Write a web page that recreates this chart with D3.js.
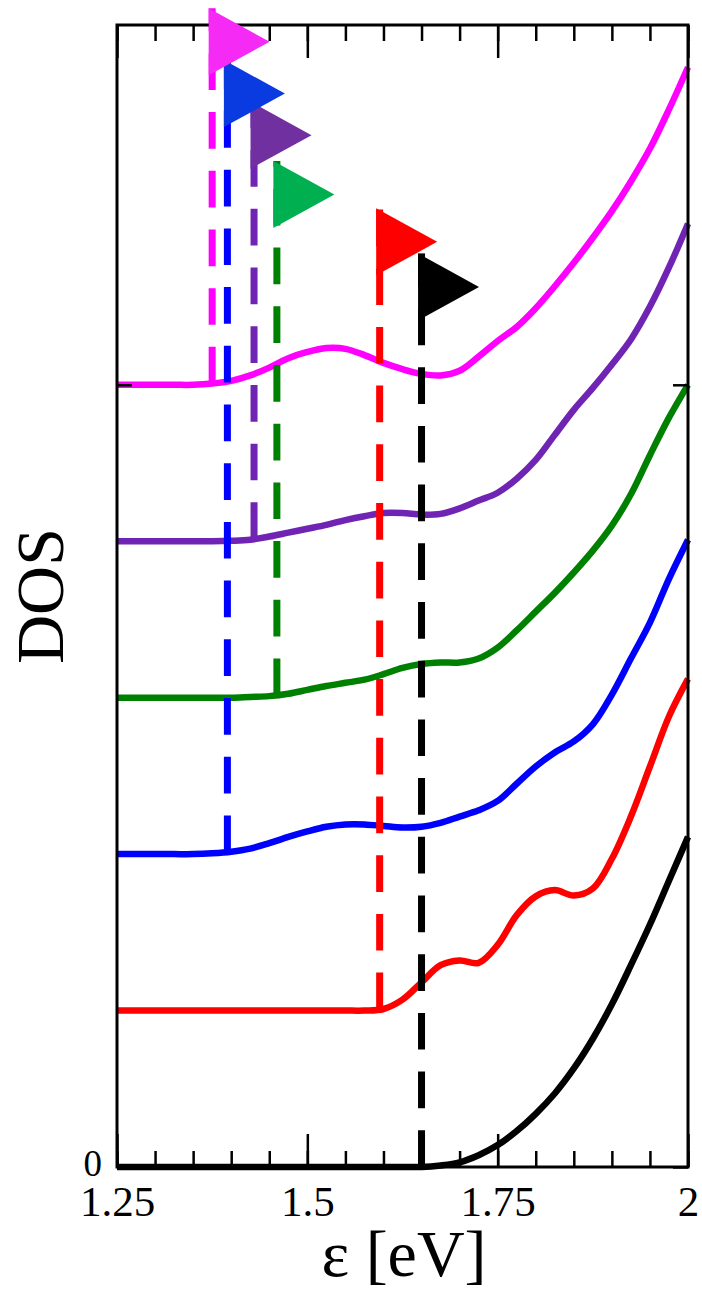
<!DOCTYPE html>
<html>
<head>
<meta charset="utf-8">
<script src="https://cdn.jsdelivr.net/npm/d3@7"></script>
<style>
  html, body { margin: 0; padding: 0; background: #fff; }
  svg { display: block; }
  text { font-family: "Liberation Serif", "Times New Roman", serif; fill: #000; }
</style>
</head>
<body>
<svg id="chart" width="702" height="1291"></svg>
<script>
// Energy grid [eV]
const energy = [1.25, 1.275, 1.30, 1.325, 1.35, 1.375, 1.40, 1.425, 1.45, 1.475,
                1.50, 1.525, 1.55, 1.575, 1.60, 1.625, 1.65, 1.675, 1.70, 1.725,
                1.75, 1.775, 1.80, 1.825, 1.85, 1.875, 1.90, 1.925, 1.95, 1.975, 2.00];

// DOS of each spectrum (before its vertical shift)
const dosBlack   = [0, 0, 0, 0, 0, 0, 0, 0, 0, 0,
                    0, 0, 0, 0, 0, 0, 0, 0.01, 0.03, 0.075,
                    0.14, 0.23, 0.34, 0.47, 0.63, 0.82, 1.04, 1.29, 1.55, 1.83, 2.11];
const dosRed     = [0, 0, 0, 0, 0, 0, 0, 0, 0, 0,
                    0, 0, 0, 0, 0.01, 0.07, 0.18, 0.29, 0.32, 0.305,
                    0.42, 0.61, 0.73, 0.77, 0.735, 0.78, 0.97, 1.24, 1.56, 1.88, 2.12];
const dosBlue    = [0, 0, 0, 0, 0, 0.005, 0.015, 0.035, 0.07, 0.11,
                    0.145, 0.175, 0.19, 0.19, 0.18, 0.17, 0.175, 0.20, 0.24, 0.28,
                    0.34, 0.45, 0.56, 0.65, 0.72, 0.83, 1.02, 1.25, 1.48, 1.76, 2.01];
const dosGreen   = [0, 0, 0, 0, 0, 0, 0, 0.005, 0.01, 0.025,
                    0.05, 0.075, 0.095, 0.115, 0.15, 0.19, 0.215, 0.225, 0.225, 0.25,
                    0.32, 0.43, 0.55, 0.67, 0.80, 0.94, 1.10, 1.30, 1.55, 1.79, 2.00];
const dosPurple  = [0, 0, 0, 0, 0, 0, 0.003, 0.01, 0.03, 0.055,
                    0.08, 0.105, 0.135, 0.16, 0.18, 0.18, 0.17, 0.175, 0.21, 0.26,
                    0.31, 0.40, 0.52, 0.68, 0.84, 0.98, 1.13, 1.29, 1.50, 1.75, 2.03];
const dosMagenta = [0, 0, 0, 0, 0, 0.008, 0.025, 0.06, 0.11, 0.17,
                    0.21, 0.235, 0.23, 0.19, 0.14, 0.10, 0.07, 0.06, 0.09, 0.18,
                    0.28, 0.37, 0.49, 0.63, 0.78, 0.94, 1.11, 1.30, 1.51, 1.76, 2.03];

// Spectra, bottom to top, with their shift, onset energy and flag height
const spectra     = [dosBlack, dosRed, dosBlue, dosGreen, dosPurple, dosMagenta];
const offsets     = [0, 1, 2, 3, 4, 5];
const onsets      = [1.65, 1.595, 1.395, 1.46, 1.43, 1.375];
const flagTops    = [5.84, 6.128, 7.076, 6.43, 6.81, 7.407];
const lineColors  = ["#000000", "#ff0000", "#0000ff", "#008000", "#7024b4", "#ff00ff"];
const flagColors  = ["#000000", "#ff0000", "#0a3be0", "#00b050", "#7030a0", "#f52af5"];

// Axis ticks
const xMajorTicks  = [1.25, 1.5, 1.75, 2];
const xMajorLabels = ["1.25", "1.5", "1.75", "2"];
const xMinorTicks  = [1.25, 1.3, 1.35, 1.4, 1.45, 1.5, 1.55, 1.6, 1.65, 1.7, 1.75,
                      1.8, 1.85, 1.9, 1.95, 2];
const yTicks       = [0, 5];
const yTickLabels  = ["0", ""];

const W = 702, H = 1291;
const margin = { left: 117, right: 14, top: 25, bottom: 124 };
const x = d3.scaleLinear().domain([1.25, 2]).range([margin.left, W - margin.right]);
const y = d3.scaleLinear().domain([0, 7.3]).range([H - margin.bottom, margin.top]);

const svg = d3.select("#chart");

// DOS curves
const line = d3.line()
  .x(d => x(d[0]))
  .y(d => y(d[1]))
  .curve(d3.curveCatmullRom.alpha(0.5));

svg.append("g").attr("class", "curves")
  .selectAll("path")
  .data(spectra.map((vals, i) => ({ vals, i })))
  .join("path")
  .attr("fill", "none")
  .attr("stroke", d => lineColors[d.i])
  .attr("stroke-width", 6.5)
  .attr("stroke-linejoin", "round")
  .attr("d", d => line(energy.map((e, k) => [e, d.vals[k] + offsets[d.i]])));

// Onset markers: dashed pole from the curve up to a flag
const markers = spectra.map((vals, i) => {
  const interp = d3.scaleLinear().domain(energy).range(vals);
  return { i, e: onsets[i], base: offsets[i] + interp(onsets[i]), top: flagTops[i] };
});

svg.append("g").attr("class", "poles")
  .selectAll("line")
  .data(markers)
  .join("line")
  .attr("x1", d => x(d.e)).attr("x2", d => x(d.e))
  .attr("y1", d => y(d.base)).attr("y2", d => y(d.top))
  .attr("stroke", d => lineColors[d.i])
  .attr("stroke-width", 7)
  .attr("stroke-dasharray", "36.7,22");

// Frame and ticks
const axes = svg.append("g").attr("class", "axes");
const tickStyle = g => {
  g.attr("font-family", null);
  g.select(".domain").remove();
  g.selectAll(".tick line").attr("stroke", "#000").attr("stroke-width", 2.5);
};

axes.append("g")
  .attr("transform", `translate(0,${y(0)})`)
  .call(d3.axisBottom(x).tickValues(xMinorTicks).tickSizeInner(-16).tickSizeOuter(0).tickFormat(""))
  .call(tickStyle);
const gxMajor = axes.append("g")
  .attr("transform", `translate(0,${y(0)})`)
  .call(d3.axisBottom(x).tickValues(xMajorTicks).tickSizeInner(-33).tickSizeOuter(0)
        .tickPadding(18).tickFormat((d, k) => xMajorLabels[k]))
  .call(tickStyle);
gxMajor.selectAll("text").attr("font-size", 43);

axes.append("g")
  .attr("transform", `translate(0,${margin.top})`)
  .call(d3.axisTop(x).tickValues(xMinorTicks).tickSizeInner(-16).tickSizeOuter(0).tickFormat(""))
  .call(tickStyle);
axes.append("g")
  .attr("transform", `translate(0,${margin.top})`)
  .call(d3.axisTop(x).tickValues(xMajorTicks).tickSizeInner(-33).tickSizeOuter(0).tickFormat(""))
  .call(tickStyle);

const gy = axes.append("g")
  .attr("transform", `translate(${margin.left},0)`)
  .call(d3.axisLeft(y).tickValues(yTicks).tickSizeInner(-15).tickSizeOuter(0)
        .tickPadding(15).tickFormat((d, k) => yTickLabels[k]))
  .call(tickStyle);
gy.selectAll("text").attr("font-size", 37).attr("dy", "0.22em");

axes.append("g")
  .attr("transform", `translate(${W - margin.right},0)`)
  .call(d3.axisRight(y).tickValues(yTicks).tickSizeInner(-15).tickSizeOuter(0).tickFormat(""))
  .call(tickStyle);

axes.append("rect")
  .attr("x", x(1.25)).attr("y", y(7.3))
  .attr("width", x(2) - x(1.25)).attr("height", y(0) - y(7.3))
  .attr("fill", "none").attr("stroke", "#000").attr("stroke-width", 3);

// Flags, lowest first so the upper ones sit on top
const flagW = 61, flagH = 67, poleHalf = 3.5;
svg.append("g").attr("class", "flags")
  .selectAll("path")
  .data(markers.slice().sort((a, b) => a.top - b.top))
  .join("path")
  .attr("fill", d => flagColors[d.i])
  .attr("d", d => {
    const x0 = x(d.e) - poleHalf, y0 = y(d.top);
    return `M${x0},${y0}L${x0 + flagW},${y0 + flagH / 2}L${x0},${y0 + flagH}Z`;
  });

// Axis titles
svg.append("text")
  .attr("x", 404).attr("y", 1276)
  .attr("text-anchor", "middle")
  .attr("font-size", 66)
  .text("ε [eV]");

svg.append("text")
  .attr("transform", "translate(63,596) rotate(-90)")
  .attr("text-anchor", "middle")
  .attr("font-size", 68)
  .text("DOS");
</script>
</body>
</html>
